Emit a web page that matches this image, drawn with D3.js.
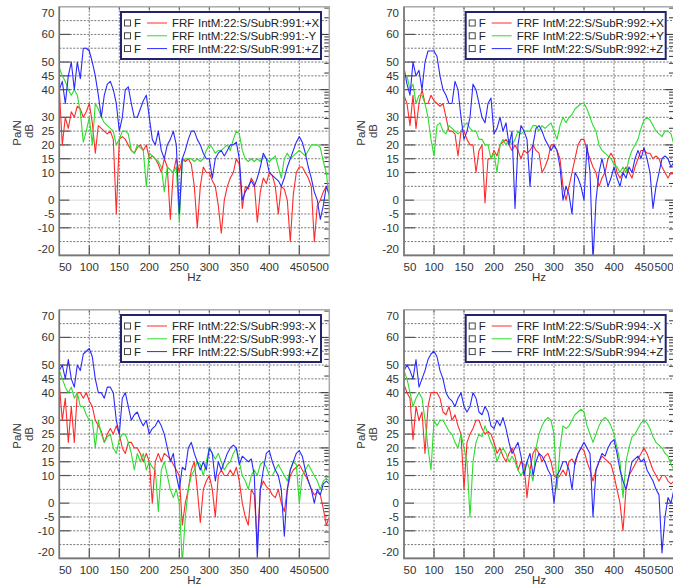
<!DOCTYPE html>
<html>
<head>
<meta charset="utf-8">
<script src="https://cdn.jsdelivr.net/npm/d3@7"></script>
<style>
    body { margin: 0; background: #fff; }
    svg { display: block; font-family: "Liberation Sans", Arial, sans-serif; }
</style>
</head>
<body>
<script>
// frequency grid, Hz (5 Hz steps)
var freq = [50,55,60,65,70,75,80,85,90,95,
    100,105,110,115,120,125,130,135,140,145,
    150,155,160,165,170,175,180,185,190,195,
    200,205,210,215,220,225,230,235,240,245,
    250,255,260,265,270,275,280,285,290,295,
    300,305,310,315,320,325,330,335,340,345,
    350,355,360,365,370,375,380,385,390,395,
    400,405,410,415,420,425,430,435,440,445,
    450,455,460,465,470,475,480,485,490,495,
    500];

var xTicks = [50,100,150,200,250,300,350,400,450,500];
var yTicks = [70,60,50,45,40,30,25,20,15,10,0,-5,-10,-20];
var yGrid = [65,60,55,50,45,40,35,30,25,20,15,10,5,-5,-10,-15];

// panel 991
var p1x = [40,20,30,26,32,30,34,33,30,32,
    35,28,17,27,26,25,24,25,22,-5,
    22,23,22,20,18,17,19,20,18,20,
    15,16,15,13,10,15,12,-7,10,15,
    10,15,14,15,13,5,-10,5,12,10,
    10,7,5,-2,-12,0,5,8,10,15,
    13,-3,5,4,8,6,-8,3,8,6,
    10,9,5,-5,5,4,0,-15,2,10,
    12,12,10,8,5,-15,-2,0,3,5,
    5];
var p1y = [48,45,43,40,38,40,38,32,21,25,
    30,20,35,33,30,28,27,26,25,20,
    22,25,25,24,18,17,20,19,18,5,
    17,16,15,14,12,3,12,11,10,12,
    -8,14,15,15,15,14,15,14,15,18,
    20,19,17,18,18,19,20,18,22,25,
    24,18,15,14,15,14,15,14,16,15,
    14,15,16,12,8,15,17,15,16,17,
    18,17,16,18,20,20,20,19,14,10,
    0];
var p1z = [40,43,35,45,50,40,50,44,55,55,
    54,50,45,38,30,38,42,43,40,35,
    25,30,40,41,35,30,30,33,36,38,
    30,22,20,25,18,15,20,22,25,20,
    -5,15,18,22,25,25,22,20,17,15,
    15,8,15,17,18,16,18,20,20,21,
    15,0,3,5,7,5,8,12,17,15,
    10,9,8,7,5,8,12,15,18,21,
    23,21,17,12,8,3,0,-7,-2,5,
    2];

// panel 992
var p2x = [38,35,27,38,26,35,40,35,35,38,
    36,35,34,35,30,25,25,24,16,25,
    25,22,20,20,10,18,20,-1,15,15,
    18,16,20,21,22,20,18,20,18,15,
    18,17,18,20,18,17,10,12,15,20,
    20,18,15,5,0,5,10,15,20,22,
    22,18,15,12,10,5,8,10,15,17,
    15,10,8,10,12,10,8,12,15,18,
    18,17,17,15,16,15,12,10,8,10,
    10];
var p2y = [45,45,40,42,35,38,38,35,30,22,
    16,27,28,25,24,27,26,25,24,25,
    27,28,26,25,25,22,22,20,20,15,
    17,10,20,22,20,22,20,22,25,24,
    25,25,25,27,27,25,27,26,27,28,
    25,22,27,30,28,30,31,33,34,35,
    35,33,30,27,25,20,18,17,16,15,
    13,12,10,12,10,15,18,20,22,26,
    29,30,29,27,25,24,23,25,25,24,
    20];
var p2z = [48,42,38,50,45,47,40,50,54,54,
    54,52,45,40,38,35,35,43,40,30,
    22,25,30,42,40,35,30,28,35,37,
    24,26,30,25,28,20,25,-3,20,27,
    25,22,5,20,26,27,25,22,20,18,
    20,18,12,0,5,2,-5,10,8,5,
    0,20,10,-22,0,10,15,10,5,8,
    12,8,5,10,8,12,10,15,18,15,
    19,15,10,-3,5,10,15,16,15,12,
    14];

// panel 993
var p3x = [43,30,38,22,35,22,40,40,38,40,
    37,35,30,28,26,22,25,27,25,28,
    25,20,18,22,22,20,20,18,15,18,
    15,0,15,18,15,18,17,16,14,12,
    10,-8,0,5,12,15,5,-7,5,8,
    10,5,-5,10,12,10,10,12,10,13,
    8,0,-5,-8,5,3,-15,5,8,6,
    5,3,2,5,0,-3,5,10,12,13,
    14,12,10,8,5,3,4,3,-2,-8,
    -5];
var p3y = [48,45,42,40,42,38,40,35,35,32,
    30,30,20,30,25,22,24,25,20,18,
    23,25,25,22,18,12,18,15,18,12,
    15,13,12,-3,12,15,10,5,2,5,
    0,-22,-5,5,10,12,15,14,10,15,
    20,18,16,18,15,12,14,15,18,20,
    15,10,8,5,10,12,10,14,15,13,
    10,10,12,14,12,10,8,12,15,14,
    0,10,12,14,12,10,8,5,8,9,
    8];
var p3z = [48,50,45,52,45,42,50,48,54,55,
    56,53,45,40,40,38,42,42,40,30,
    25,38,40,35,30,32,33,30,28,30,
    25,27,28,30,28,25,20,15,18,10,
    5,13,12,20,22,18,15,12,15,12,
    20,18,8,15,12,15,18,20,21,20,
    14,17,16,15,16,10,-20,5,12,18,
    19,15,12,10,5,-12,5,12,15,18,
    19,17,12,8,5,0,5,3,7,8,
    7];

// panel 994
var p4x = [43,40,38,23,35,30,33,18,35,40,
    40,40,38,33,32,35,30,32,28,25,
    5,22,25,27,30,30,27,25,26,25,
    22,18,20,17,15,18,20,17,12,15,
    14,2,12,18,20,18,15,17,18,15,
    10,9,10,12,10,15,16,14,18,20,
    19,15,12,8,12,15,17,16,15,14,
    10,5,0,-10,5,10,12,14,16,18,
    20,18,15,12,10,8,10,10,8,7,
    8];
var p4y = [48,45,40,35,38,40,38,30,20,12,
    30,28,30,30,28,26,25,22,20,25,
    20,15,-5,15,22,25,24,28,25,22,
    20,15,18,20,18,15,17,15,12,10,
    12,15,12,8,20,25,28,30,31,30,
    25,5,20,28,27,28,30,32,33,34,
    33,28,25,22,25,28,30,31,30,28,
    25,20,15,2,15,20,24,25,27,29,
    30,29,27,24,22,21,20,18,17,14,
    12];
var p4z = [48,50,48,45,52,42,45,48,52,54,
    55,53,48,45,40,38,37,35,38,40,
    35,33,35,40,38,33,32,35,33,28,
    27,30,28,31,27,22,18,20,22,17,
    10,15,18,10,15,18,17,15,12,10,
    0,10,12,15,15,12,5,15,18,20,
    22,20,18,-5,12,15,18,17,20,22,
    23,18,12,8,5,10,15,16,17,15,
    16,12,10,8,5,3,-18,-5,2,0,
    5];

var names1 = ["IntM:22:S/SubR:991:+X", "IntM:22:S/SubR:991:-Y", "IntM:22:S/SubR:991:+Z"];
var names2 = ["IntM:22:S/SubR:992:+X", "IntM:22:S/SubR:992:+Y", "IntM:22:S/SubR:992:+Z"];
var names3 = ["IntM:22:S/SubR:993:-X", "IntM:22:S/SubR:993:-Y", "IntM:22:S/SubR:993:+Z"];
var names4 = ["IntM:22:S/SubR:994:-X", "IntM:22:S/SubR:994:+Y", "IntM:22:S/SubR:994:+Z"];

var colors = ["#ff2a2a", "#2edc2e", "#2a2aff"];

var panels = [
    { dx: 0, dy: 0, series: [p1x, p1y, p1z], names: names1 },
    { dx: 344.7, dy: 0, series: [p2x, p2y, p2z], names: names2 },
    { dx: 0, dy: 303, series: [p3x, p3y, p3z], names: names3 },
    { dx: 344.7, dy: 303, series: [p4x, p4y, p4z], names: names4 }
];

var width = 673, height = 588;
var svg = d3.select("body").append("svg")
    .attr("width", width)
    .attr("height", height);

var x = d3.scaleLinear().domain([50, 500]).range([59.3, 329.3]);
var y = d3.scaleLinear().domain([-20, 70]).range([255.4, 6.8]);

// right-hand ticks (log amplitude)
var rightTicks = [];
[-1, 0, 1, 2, 3].forEach(function (n) {
    for (var k = 1; k < 10; k++) {
        var db = 20 * Math.log10(k * Math.pow(10, n));
        if (db > -20 && db < 70) rightTicks.push({ db: db, major: k === 1 });
    }
});

panels.forEach(function (p, pi) {
    var g = svg.append("g").attr("transform", "translate(" + p.dx + "," + p.dy + ")");

    g.append("clipPath").attr("id", "clip" + pi)
        .append("rect")
        .attr("x", x(50)).attr("y", y(70))
        .attr("width", x(500) - x(50)).attr("height", y(-20) - y(70));

    g.append("rect")
        .attr("x", x(50)).attr("y", y(70))
        .attr("width", x(500) - x(50)).attr("height", y(-20) - y(70))
        .attr("fill", "#fff");

    // zero line
    g.append("line")
        .attr("x1", x(50)).attr("x2", x(500))
        .attr("y1", y(0)).attr("y2", y(0))
        .attr("stroke", "#e6e6e6").attr("stroke-width", 1.5);

    // dashed grid
    g.append("g").selectAll("line")
        .data(yGrid).join("line")
        .attr("x1", x(50)).attr("x2", x(500))
        .attr("y1", d => y(d)).attr("y2", d => y(d))
        .attr("stroke", "#666").attr("stroke-width", 0.9)
        .attr("stroke-dasharray", "2,1.5");

    g.append("g").selectAll("line")
        .data(xTicks.slice(1, -1)).join("line")
        .attr("x1", d => x(d)).attr("x2", d => x(d))
        .attr("y1", y(70)).attr("y2", y(-20))
        .attr("stroke", "#666").attr("stroke-width", 0.9)
        .attr("stroke-dasharray", "2,1.5");

    // solid major ticks
    g.append("g").selectAll("line")
        .data(yTicks.slice(1, -1)).join("line")
        .attr("x1", x(50)).attr("x2", d => x(50) + (d === 0 ? 10 : 11))
        .attr("y1", d => y(d)).attr("y2", d => y(d))
        .attr("stroke", "#555").attr("stroke-width", 1.2);

    g.append("g").selectAll("line")
        .data(xTicks.slice(1, -1)).join("line")
        .attr("x1", d => x(d)).attr("x2", d => x(d))
        .attr("y1", y(-20)).attr("y2", y(-20) - 10)
        .attr("stroke", "#555").attr("stroke-width", 1.2);

    g.append("g").selectAll("line")
        .data(xTicks.slice(1, -1)).join("line")
        .attr("x1", d => x(d)).attr("x2", d => x(d))
        .attr("y1", y(70)).attr("y2", y(70) + 3)
        .attr("stroke", "#555").attr("stroke-width", 1);

    // right ticks
    g.append("g").selectAll("line")
        .data(rightTicks).join("line")
        .attr("x1", x(500)).attr("x2", d => x(500) - (d.major ? 9 : 5))
        .attr("y1", d => y(d.db)).attr("y2", d => y(d.db))
        .attr("stroke", "#333").attr("stroke-width", 1);

    // curves
    var line = d3.line()
        .x((d, i) => x(freq[i]))
        .y(d => y(d));

    g.append("g").attr("clip-path", "url(#clip" + pi + ")")
        .selectAll("path")
        .data(p.series).join("path")
        .attr("fill", "none")
        .attr("stroke", (d, i) => colors[i])
        .attr("stroke-width", 1.1)
        .attr("stroke-linejoin", "round")
        .attr("d", line);

    // frame
    g.append("rect")
        .attr("x", x(50)).attr("y", y(70))
        .attr("width", x(500) - x(50)).attr("height", y(-20) - y(70))
        .attr("fill", "none").attr("stroke", "#aaa").attr("stroke-width", 1.5);
    g.append("path")
        .attr("d", "M" + x(50) + "," + y(70) + "V" + y(-20) + "H" + x(500))
        .attr("fill", "none").attr("stroke", "#777").attr("stroke-width", 1.6);

    // tick labels
    g.append("g").selectAll("text")
        .data(yTicks).join("text")
        .attr("x", x(50) - 5)
        .attr("y", d => y(d) + (d === 70 ? 6 : d === -20 ? -6 : 0))
        .attr("dy", "0.35em")
        .attr("text-anchor", "end")
        .attr("font-size", 11.5)
        .attr("fill", "#333")
        .text(d => d);

    g.append("g").selectAll("text")
        .data(xTicks).join("text")
        .attr("x", d => x(d) + (d === 50 ? 6 : d === 500 ? -10 : 0))
        .attr("y", y(-20) + 7)
        .attr("dy", "0.71em")
        .attr("text-anchor", "middle")
        .attr("font-size", 11.5)
        .attr("fill", "#333")
        .text(d => d);

    // axis titles
    g.append("text")
        .attr("transform", "translate(16.5,133) rotate(-90)")
        .attr("text-anchor", "middle").attr("dy", "0.35em")
        .attr("font-size", 11.5).attr("fill", "#333")
        .text("Pa/N");
    g.append("text")
        .attr("transform", "translate(28.5,131) rotate(-90)")
        .attr("text-anchor", "middle").attr("dy", "0.35em")
        .attr("font-size", 11.5).attr("fill", "#333")
        .text("dB");
    g.append("text")
        .attr("x", (x(50) + x(500)) / 2).attr("y", 277)
        .attr("text-anchor", "middle").attr("dy", "0.35em")
        .attr("font-size", 11.5).attr("fill", "#333")
        .text("Hz");

    // legend
    var lg = g.append("g");
    lg.append("rect")
        .attr("x", 121).attr("y", 12)
        .attr("width", 200).attr("height", 47)
        .attr("fill", "#fff").attr("stroke", "#23236e").attr("stroke-width", 2);
    var row = lg.selectAll("g.row")
        .data(p.names).join("g")
        .attr("class", "row")
        .attr("transform", (d, i) => "translate(0," + (23 + i * 12.8) + ")");
    row.append("rect")
        .attr("x", 124.5).attr("y", -3).attr("width", 6).attr("height", 6)
        .attr("fill", "none").attr("stroke", "#333").attr("stroke-width", 0.9);
    row.append("text")
        .attr("x", 134).attr("dy", "0.35em")
        .attr("font-size", 11.5).attr("fill", "#222").text("F");
    row.append("line")
        .attr("x1", 147).attr("x2", 167)
        .attr("stroke", (d, i) => colors[i]).attr("stroke-width", 1);
    row.append("text")
        .attr("x", 172).attr("dy", "0.35em")
        .attr("font-size", 11.5).attr("fill", "#222").text("FRF");
    row.append("text")
        .attr("x", 198).attr("dy", "0.35em")
        .attr("font-size", 11.5).attr("fill", "#222").text(d => d);
});
</script>
</body>
</html>
